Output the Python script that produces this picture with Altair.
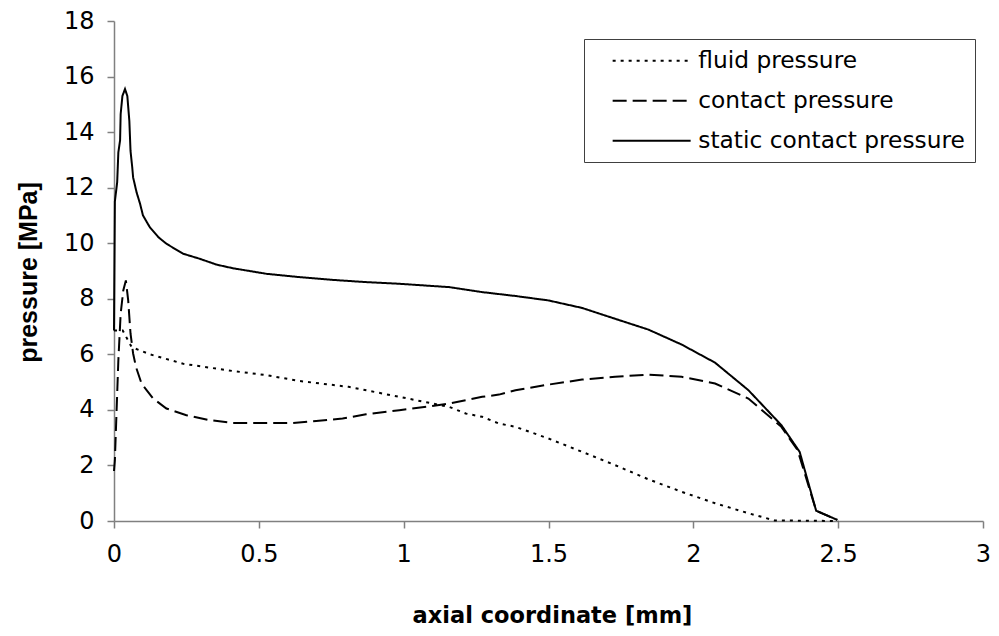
import altair as alt
import pandas as pd

# fluid pressure (dotted)
fluid_x = [0.0, 0.03, 0.061, 0.124, 0.239, 0.41, 0.526, 0.64, 0.81, 0.985, 1.099, 1.157, 1.214, 1.271,
           1.329, 1.386, 1.5, 1.616, 1.73, 1.845, 1.96, 2.075, 2.19, 2.28, 2.5]
fluid_y = [6.86, 6.86, 6.26, 6.0, 5.66, 5.4, 5.25, 5.04, 4.83, 4.47, 4.23, 4.11, 3.87, 3.75,
           3.51, 3.39, 2.97, 2.49, 2.01, 1.5, 1.05, 0.64, 0.28, 0.02, 0.0]

# contact pressure (dashed)
contact_x = [0.0, 0.003, 0.015, 0.023, 0.032, 0.041, 0.049, 0.057, 0.066, 0.076, 0.095, 0.135, 0.181,
             0.25, 0.33, 0.41, 0.526, 0.617, 0.698, 0.789, 0.87, 0.985, 1.099, 1.157, 1.214, 1.271,
             1.329, 1.386, 1.5, 1.616, 1.73, 1.845, 1.96, 2.075, 2.19, 2.304, 2.36, 2.424, 2.497]
contact_y = [1.8, 2.19, 5.78, 7.46, 8.3, 8.66, 7.94, 6.75, 6.03, 5.54, 4.95, 4.41, 4.05,
             3.81, 3.63, 3.53, 3.53, 3.53, 3.6, 3.69, 3.84, 3.99, 4.14, 4.23, 4.35, 4.47,
             4.55, 4.71, 4.91, 5.09, 5.19, 5.27, 5.19, 4.95, 4.41, 3.39, 2.55, 0.37, 0.04]

# static contact pressure (solid)
static_x = [0.0, 0.003, 0.011, 0.015, 0.021, 0.023, 0.029, 0.038, 0.046, 0.053, 0.057, 0.063, 0.066,
            0.078, 0.09, 0.10, 0.124, 0.153, 0.181, 0.239, 0.296, 0.354, 0.41, 0.526, 0.64, 0.755,
            0.87, 0.985, 1.157, 1.271, 1.386, 1.5, 1.616, 1.73, 1.845, 1.96, 2.075, 2.19, 2.304,
            2.367, 2.424, 2.497]
static_y = [6.86, 11.5, 12.2, 13.27, 13.7, 14.65, 15.3, 15.55, 15.3, 14.4, 13.33, 12.73, 12.37,
            11.83, 11.42, 11.0, 10.57, 10.22, 9.98, 9.62, 9.44, 9.23, 9.1, 8.9, 8.78, 8.68,
            8.6, 8.54, 8.42, 8.24, 8.10, 7.94, 7.67, 7.28, 6.89, 6.35, 5.7, 4.71, 3.45,
            2.49, 0.37, 0.04]

series_names = ["fluid pressure", "contact pressure", "static contact pressure"]
dashes = [[3, 5], [14, 6], [1, 0]]

rows = []
for name, xs, ys in zip(series_names, [fluid_x, contact_x, static_x], [fluid_y, contact_y, static_y]):
    for i, (a, b) in enumerate(zip(xs, ys)):
        rows.append({"series": name, "x": a, "y": b, "i": i})
df = pd.DataFrame(rows)

WIDE = "DejaVu Sans"
ARIAL = "Liberation Sans"

chart = alt.Chart(df).mark_line(strokeWidth=2, color="black").encode(
    x=alt.X("x:Q", scale=alt.Scale(domain=[0, 3], nice=False),
            axis=alt.Axis(values=[0, 0.5, 1, 1.5, 2, 2.5, 3], format="~g", grid=False,
                          title="axial coordinate [mm]", titleX=438, titleY=94,
                          titleBaseline="middle", titleFontSize=22.5, titleFontWeight="bold",
                          titleFont=WIDE, labelPadding=14, labelFlush=False)),
    y=alt.Y("y:Q", scale=alt.Scale(domain=[0, 18], nice=False),
            axis=alt.Axis(values=list(range(0, 19, 2)), grid=False,
                          title="pressure [MPa]", titleX=-86, titleY=251, titleAngle=-90,
                          titleBaseline="middle", titleFontSize=25, titleFontWeight="bold",
                          titleFont=ARIAL, labelPadding=13)),
    strokeDash=alt.StrokeDash("series:N",
                              scale=alt.Scale(domain=series_names, range=dashes),
                              legend=alt.Legend(title=None, orient="none", legendX=470, legendY=18,
                                                symbolType="M-3.9,0H3.9", symbolSize=400,
                                                symbolStrokeWidth=2, symbolStrokeColor="black",
                                                labelFontSize=23.3, labelFont=WIDE, labelColor="black",
                                                labelOffset=35, padding=10, symbolOffset=46,
                                                rowPadding=16, strokeColor="#404040",
                                                fillColor="white", labelLimit=400)),
    order="i:Q",
).properties(
    width=869, height=500,
    autosize=alt.AutoSizeParams(type="none"),
    padding={"left": 106, "top": 13, "right": 7, "bottom": 107},
).configure_view(
    stroke=None
).configure_axis(
    domainColor="#808080", tickColor="#808080", tickSize=7, domainWidth=1.5, tickWidth=1.5,
    labelFont=WIDE, labelFontSize=24, labelColor="black", titleColor="black",
)

chart.save("out.html", embed_options={"renderer": "svg", "actions": False})
